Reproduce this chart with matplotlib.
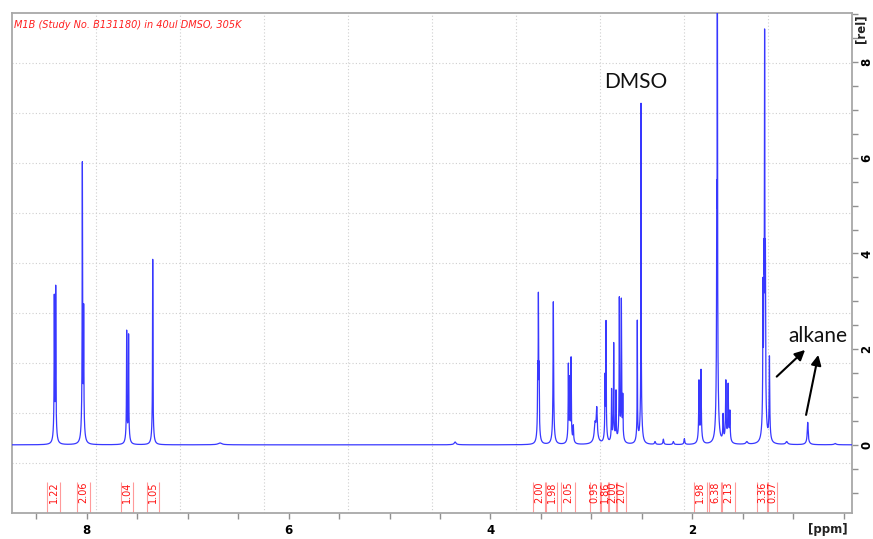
import numpy as np
import matplotlib
matplotlib.use("Agg")
import matplotlib.pyplot as plt
from matplotlib.ticker import MultipleLocator

# ---------------- data ----------------
title = "M1B (Study No. B131180) in 40ul DMSO, 305K"

peak_ppm = [8.321, 8.307, 8.043, 8.030, 7.604, 7.585, 7.346, 6.68, 4.35,
            3.532, 3.525, 3.518, 3.377, 3.228, 3.215, 3.201, 3.179,
            2.964, 2.947, 2.865, 2.855, 2.800, 2.779, 2.756, 2.723, 2.703, 2.689,
            2.545, 2.508, 2.370, 2.287, 2.188, 2.079,
            1.934, 1.914, 1.758, 1.752, 1.695, 1.668, 1.645, 1.628, 1.460,
            1.300, 1.291, 1.284, 1.276, 1.236, 1.065, 0.857, 0.585]
peak_height = [3.15, 3.34, 5.92, 2.95, 2.40, 2.32, 3.88, 0.04, 0.06,
               1.75, 3.19, 1.75, 2.99, 1.71, 1.45, 1.84, 0.42,
               0.50, 0.80, 1.50, 2.60, 1.18, 2.14, 1.15, 3.10, 3.07, 1.08,
               2.61, 7.16, 0.07, 0.12, 0.07, 0.13,
               1.36, 1.58, 5.50, 11.0, 0.66, 1.36, 1.29, 0.73, 0.07,
               3.50, 4.30, 8.70, 4.30, 1.86, 0.07, 0.47, 0.03]
peak_width = [0.002, 0.002, 0.002, 0.002, 0.002, 0.002, 0.002, 0.02, 0.01,
              0.002, 0.002, 0.002, 0.003, 0.002, 0.002, 0.002, 0.003,
              0.008, 0.006, 0.002, 0.002, 0.002, 0.002, 0.002, 0.002, 0.002, 0.002,
              0.0015, 0.0015, 0.005, 0.004, 0.005, 0.004,
              0.003, 0.003, 0.002, 0.002, 0.003, 0.003, 0.003, 0.003, 0.01,
              0.002, 0.002, 0.002, 0.002, 0.003, 0.01, 0.005, 0.01]

int_labels = ["1.22", "2.06", "1.04", "1.05", "2.00", "1.98", "2.05", "0.95",
              "1.86", "2.00", "2.07", "1.98", "6.38", "2.13", "3.36", "0.97"]
int_left = [8.39, 8.096, 7.656, 7.40, 3.578, 3.445, 3.30, 3.016,
            2.90, 2.825, 2.745, 1.983, 1.834, 1.708, 1.358, 1.26]
int_right = [8.26, 7.963, 7.541, 7.287, 3.462, 3.34, 3.166, 2.917,
             2.834, 2.752, 2.66, 1.857, 1.718, 1.576, 1.249, 1.16]

x_major = [8, 6, 4, 2]
y_major = [0, 2, 4, 6, 8]

# ---------------- build spectrum from peak list ----------------
pp = np.array(peak_ppm)
ph = np.array(peak_height)
pw = np.array(peak_width)

def lor(x, x0, g):
    return 1.0 / (1.0 + ((x - x0) / g) ** 2)

def shape(x, x0, g):
    # sharp core with a broader foot, as in the processed spectrum
    return 0.88 * lor(x, x0, g) + 0.12 * lor(x, x0, np.maximum(0.01, 4 * g))

A = shape(pp[:, None], pp[None, :], pw[None, :])
amp, *_ = np.linalg.lstsq(A, ph, rcond=None)
amp = np.clip(amp, 0, None)

xs = np.linspace(8.743, 0.421, 42000)
ys = (amp[None, :] * shape(xs[:, None], pp[None, :], pw[None, :])).sum(axis=1)

# ---------------- figure ----------------
fig = plt.figure(figsize=(8.73, 5.39), dpi=100)
ax = fig.add_axes([0.0134, 0.0477, 0.9622, 0.9287])
ax.set_xlim(8.743, 0.421)
ax.set_ylim(-1.43, 9.03)

# grid dividing the box into 10 x 10
for f in np.arange(1, 10) / 10:
    ax.plot([f, f], [0, 1], transform=ax.transAxes, color="#cfcfcf",
            lw=0.8, ls=(0, (1, 2)), zorder=0)
    ax.plot([0, 1], [f, f], transform=ax.transAxes, color="#cfcfcf",
            lw=0.8, ls=(0, (1, 2)), zorder=0)

ax.plot(xs, ys, color="#3838ff", lw=0.9, zorder=3)

# integrals
for lab, l, r in zip(int_labels, int_left, int_right):
    ax.vlines([l, r], -1.43, -0.77, color="#ff9a9a", lw=0.8, zorder=2)
    ax.text((l + r) / 2, -0.77, lab, rotation=90, ha="center", va="top",
            color="#ff1010", fontsize=7, zorder=4)

# annotations
ax.text(2.558, 7.45, "DMSO", fontsize=15, family="Lato", ha="center",
        va="baseline", color="#111111")
ax.text(0.76, 2.15, "alkane", fontsize=15, family="Lato", ha="center",
        va="baseline", color="#111111")
arrowprops = dict(arrowstyle="-|>,head_length=0.6,head_width=0.3",
                  color="black", lw=1.5, shrinkA=0, shrinkB=0)
ax.annotate("", xy=(0.883, 1.983), xytext=(1.164, 1.426), arrowprops=arrowprops)
ax.annotate("", xy=(0.752, 1.879), xytext=(0.873, 0.626), arrowprops=arrowprops)

ax.text(0.003, 0.985, title, transform=ax.transAxes, ha="left", va="top",
        color="#ff2020", fontsize=7, style="italic")

# axes styling
for s in ax.spines.values():
    s.set_color("#a8a8a8")
    s.set_linewidth(1.3)
ax.yaxis.tick_right()
ax.set_xticks(x_major)
ax.set_yticks(y_major)
ax.xaxis.set_minor_locator(MultipleLocator(0.5))
ax.yaxis.set_minor_locator(MultipleLocator(0.5))
ax.tick_params(axis="both", which="both", direction="out", color="#909090",
               length=4, width=1)
ax.tick_params(axis="x", labelsize=8.5, pad=4)
ax.tick_params(axis="y", labelsize=8.5, pad=2, labelrotation=90)
for t in ax.get_xticklabels() + ax.get_yticklabels():
    t.set_fontweight("bold")
for t in ax.get_yticklabels():
    t.set_va("center")

fig.text(848 / 873, 1 - 529 / 539, "[ppm]", ha="right", va="center",
         fontsize=8.5, fontweight="bold", color="#222222")
fig.text(861 / 873, 1 - 14 / 539, "[rel]", ha="center", va="top",
         rotation=90, fontsize=8.5, fontweight="bold", color="#222222")

fig.savefig("out.png", dpi=100)
